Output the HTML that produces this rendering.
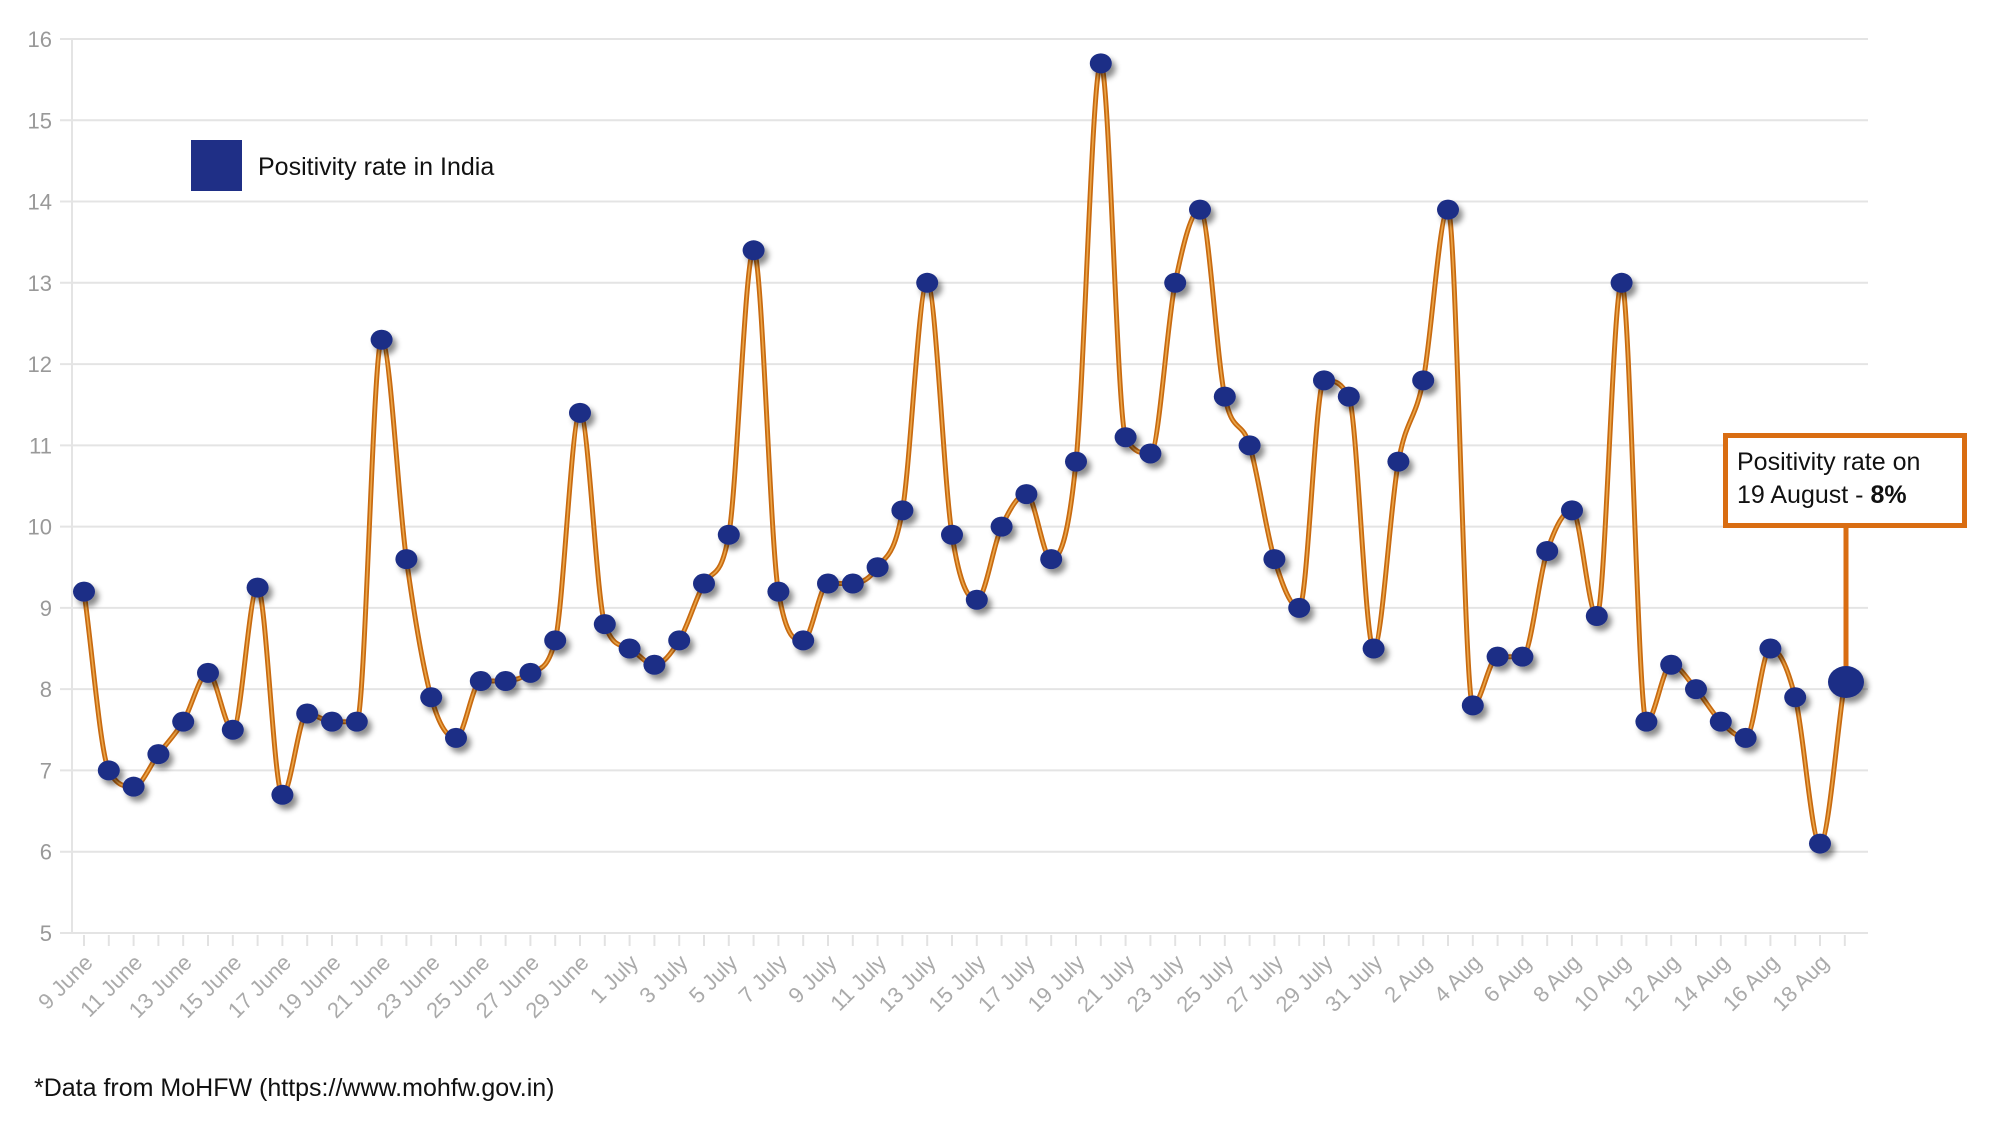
<!DOCTYPE html>
<html><head><meta charset="utf-8">
<style>
html,body{margin:0;padding:0;background:#fff;}
svg{display:block;}
</style></head>
<body>
<svg id="s" width="1989" height="1126" xmlns="http://www.w3.org/2000/svg" font-family="Liberation Sans, sans-serif">
<defs>
<filter id="sh" x="-80%" y="-80%" width="260%" height="260%">
<feDropShadow dx="4" dy="5" stdDeviation="3" flood-color="#000" flood-opacity="0.45"/>
</filter>
</defs>
<g id="grid"></g>
<g id="xl"></g>
<path id="ln" fill="none" stroke="#c86a10" stroke-width="5" stroke-linejoin="round"/>
<path id="ln2" fill="none" stroke="#eaa548" stroke-width="1.6" stroke-linejoin="round"/>
<g id="dots" fill="#1f2f86" filter="url(#sh)"></g>
<rect x="191" y="140" width="51" height="51" fill="#1f2f86"/>
<text x="258" y="175" font-size="25" fill="#111">Positivity rate in India</text>
<line x1="1846" y1="528" x2="1846" y2="682" stroke="#d96d12" stroke-width="5"/>
<rect x="1725.5" y="435.5" width="239" height="90" fill="#fff" stroke="#d96d12" stroke-width="5"/>
<text x="1737" y="470" font-size="25" fill="#111">Positivity rate on</text>
<text x="1737" y="503" font-size="25" fill="#111">19 August - <tspan font-weight="bold">8%</tspan></text>
<ellipse cx="1846" cy="682" rx="18" ry="16" fill="#1f2f86" filter="url(#sh)"/>
<text x="34" y="1096" font-size="25" fill="#111">*Data from MoHFW (https://www.mohfw.gov.in)</text>
</svg>
<script>
var d=[9.2,7.0,6.8,7.2,7.6,8.2,7.5,9.25,6.7,7.7,7.6,7.6,12.3,9.6,7.9,7.4,8.1,8.1,8.2,8.6,11.4,8.8,
8.5,8.3,8.6,9.3,9.9,13.4,9.2,8.6,9.3,9.3,9.5,10.2,13.0,9.9,9.1,10.0,10.4,9.6,10.8,15.7,11.1,10.9,13.0,13.9,11.6,11.0,9.6,9.0,11.8,11.6,8.5,
10.8,11.8,13.9,7.8,8.4,8.4,9.7,10.2,8.9,13.0,7.6,8.3,8.0,7.6,7.4,8.5,7.9,6.1,8.1];
var NS="http://www.w3.org/2000/svg";
function X(i){return 84+i*24.8;}
function Y(v){return 39+(16-v)*81.27;}
function el(t,a,p,txt){var e=document.createElementNS(NS,t);for(var k in a)e.setAttribute(k,a[k]);if(txt)e.textContent=txt;p.appendChild(e);return e;}
var g=document.getElementById('grid');
for(var v=5;v<=16;v++){var y=Y(v);
 el('line',{x1:60,x2:1868,y1:y,y2:y,stroke:'#e4e4e4','stroke-width':2},g);
 el('text',{x:52,y:y+8,'font-size':22,fill:'#999','text-anchor':'end'},g,String(v));}
el('line',{x1:72,x2:72,y1:39,y2:933,stroke:'#e4e4e4','stroke-width':2},g);
var xl=document.getElementById('xl');
var names=[];
for(var i=0;i<72;i++){var lab;
 if(i<22)lab=(9+i)+' June';else if(i<53)lab=(i-21)+' July';else lab=(i-52)+' Aug';names.push(lab);}
for(var i=0;i<72;i++){var x=X(i);
 el('line',{x1:x,x2:x,y1:935,y2:946,stroke:'#e2e2e2','stroke-width':2},xl);
 if(i%2==0&&i<=70){el('text',{x:0,y:0,'font-size':22,fill:'#aaa','text-anchor':'end',transform:'translate('+(x+10)+',964) rotate(-45)'},xl,names[i]);}}
var p=d.map(function(v,i){return [X(i),Y(v)];});
// monotone cubic (Fritsch-Carlson)
var n=p.length,h=24.8,del=[],m=[];
for(var i=0;i<n-1;i++)del.push((p[i+1][1]-p[i][1])/h);
m[0]=del[0];m[n-1]=del[n-2];
for(var i=1;i<n-1;i++){ if(del[i-1]*del[i]<=0)m[i]=0; else m[i]=(del[i-1]+del[i])/2;}
for(var i=0;i<n-1;i++){ if(del[i]==0){m[i]=0;m[i+1]=0;continue;}
 var a=m[i]/del[i],b=m[i+1]/del[i],s2=a*a+b*b; if(s2>9){var t=3/Math.sqrt(s2);m[i]=t*a*del[i];m[i+1]=t*b*del[i];}}
var s='M'+p[0][0]+','+p[0][1];
for(var i=0;i<n-1;i++){var x0=p[i][0],y0=p[i][1],x1=p[i+1][0],y1=p[i+1][1];
 s+=' C'+(x0+h/3).toFixed(1)+','+(y0+m[i]*h/3).toFixed(1)+' '+(x1-h/3).toFixed(1)+','+(y1-m[i+1]*h/3).toFixed(1)+' '+x1.toFixed(1)+','+y1.toFixed(1);}
document.getElementById('ln').setAttribute('d',s);
document.getElementById('ln2').setAttribute('d',s);
var dg=document.getElementById('dots');
for(var i=0;i<71;i++)el('ellipse',{cx:p[i][0],cy:p[i][1],rx:11,ry:10},dg);
</script>
</body></html>
